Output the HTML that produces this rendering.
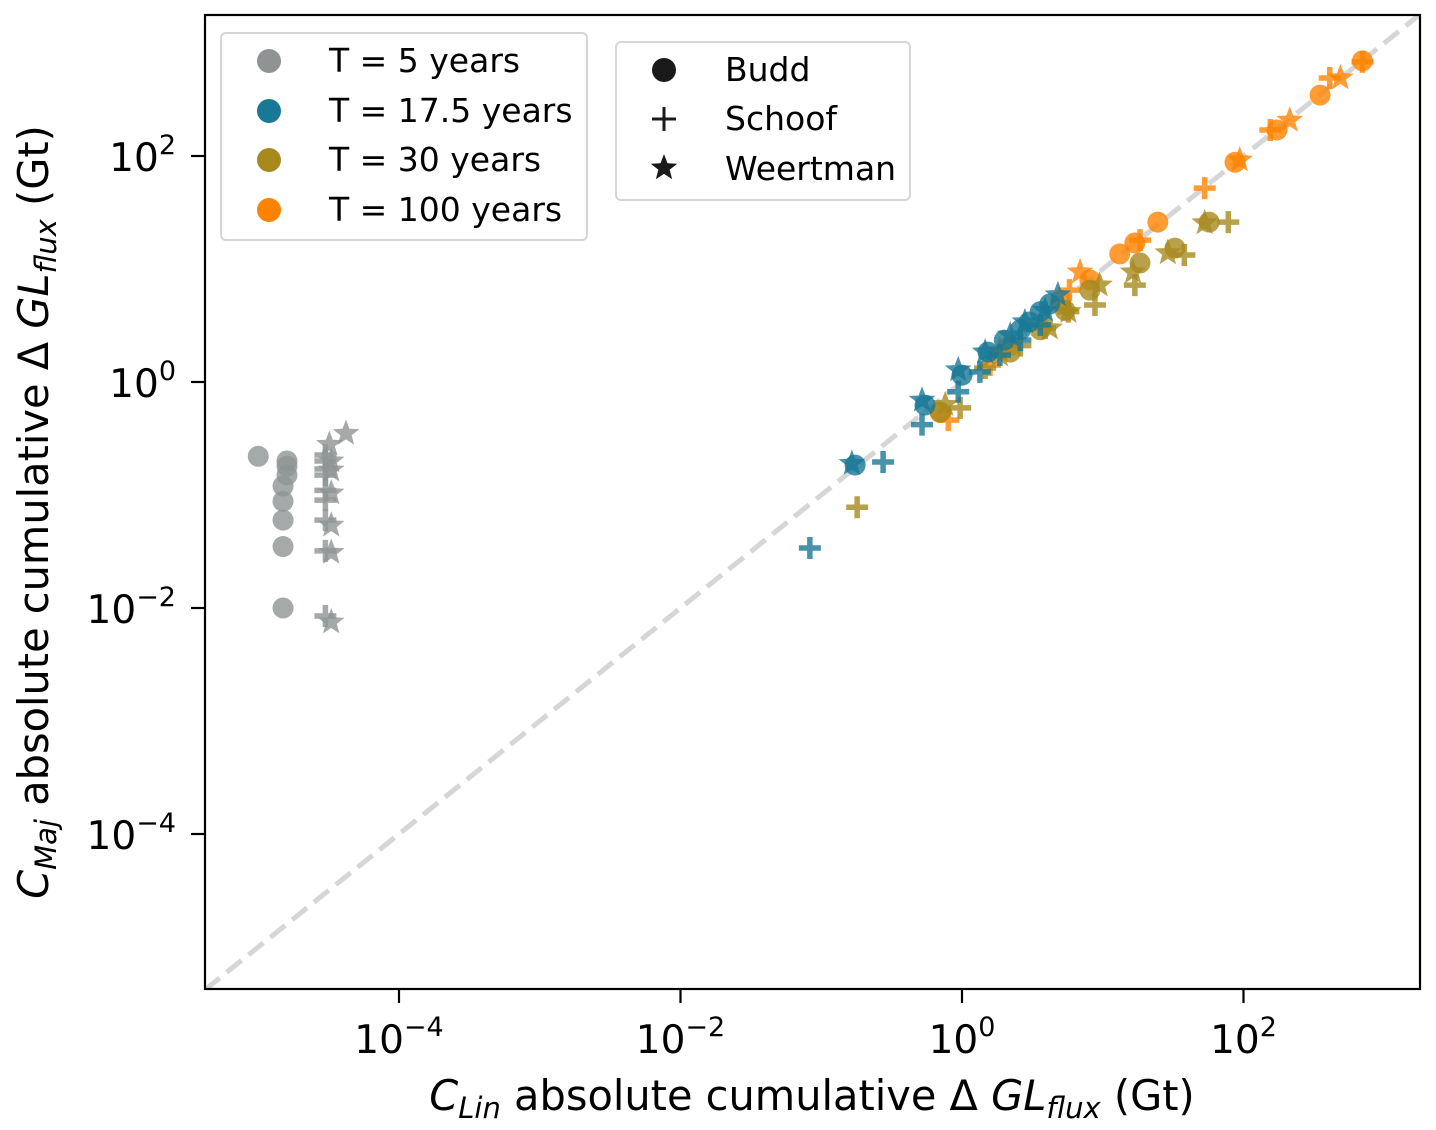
<!DOCTYPE html>
<html><head><meta charset="utf-8"><style>
html,body{margin:0;padding:0;background:#fff;}
svg{display:block;font-family:"DejaVu Sans","Liberation Sans",sans-serif;}
</style></head><body>
<svg id="chart" width="1436" height="1130" viewBox="0 0 1436 1130" xmlns="http://www.w3.org/2000/svg">
<defs><clipPath id="clip"><rect x="205" y="15" width="1215" height="974"/></clipPath></defs>
<rect x="0" y="0" width="1436" height="1130" fill="#fff"/>
<g id="marks" clip-path="url(#clip)"></g>
<rect x="205" y="15" width="1215" height="974" fill="none" stroke="#000" stroke-width="2.2"/>
<g id="ticks"></g>
<text x="812" y="1110" font-size="41.5" text-anchor="middle"><tspan font-style="italic">C</tspan><tspan font-style="italic" font-size="29" dy="8">Lin</tspan><tspan dy="-8"> absolute cumulative Δ </tspan><tspan font-style="italic">GL</tspan><tspan font-style="italic" font-size="29" dy="8">flux</tspan><tspan dy="-8"> (Gt)</tspan></text>
<text transform="translate(48,512) rotate(-90)" font-size="41.5" text-anchor="middle"><tspan font-style="italic">C</tspan><tspan font-style="italic" font-size="29" dy="8">Maj</tspan><tspan dy="-8"> absolute cumulative Δ </tspan><tspan font-style="italic">GL</tspan><tspan font-style="italic" font-size="29" dy="8">flux</tspan><tspan dy="-8"> (Gt)</tspan></text>
<g>
<rect x="221" y="33" width="366" height="207" rx="5" fill="#fff" fill-opacity="0.8" stroke="#d6d6d6" stroke-width="2"/>
<circle cx="269" cy="61" r="12" fill="#8f9393"/><text x="329" y="72" font-size="33">T = 5 years</text>
<circle cx="269" cy="111" r="12" fill="#187896"/><text x="329" y="122" font-size="33">T = 17.5 years</text>
<circle cx="269" cy="160" r="12" fill="#a8891e"/><text x="329" y="171" font-size="33">T = 30 years</text>
<circle cx="269" cy="210" r="12" fill="#ff8300"/><text x="329" y="221" font-size="33">T = 100 years</text>
</g>
<g>
<rect x="616" y="42" width="294" height="158" rx="5" fill="#fff" fill-opacity="0.8" stroke="#d6d6d6" stroke-width="2"/>
<circle cx="664" cy="70" r="12" fill="#1a1a1a"/><text x="725" y="81" font-size="33">Budd</text>
<path d="M652 119h24M664 107v24" stroke="#1a1a1a" stroke-width="3"/><text x="725" y="130" font-size="33">Schoof</text>
<path id="legstar" fill="#1a1a1a"/><text x="725" y="180" font-size="33">Weertman</text>
</g>
</svg>
<script>
// data (values in Gt)
const budd5x=[1e-5,1.6e-5,1.6e-5,1.6e-5,1.5e-5,1.5e-5,1.5e-5,1.5e-5,1.5e-5];
const budd5y=[0.22,0.2,0.18,0.15,0.12,0.088,0.06,0.035,0.01];
const schoof5x=[3e-5,3e-5,3e-5,3e-5,3e-5,3e-5,3e-5,3e-5,3e-5];
const schoof5y=[0.226,0.2,0.17,0.15,0.11,0.09,0.06,0.032,0.0085];
const weert5x=[4.2e-5,3.2e-5,3.3e-5,3.3e-5,3.3e-5,3.3e-5,3.3e-5,3.3e-5];
const weert5y=[0.35,0.28,0.2,0.166,0.104,0.054,0.031,0.0075];
const budd17x=[0.174,0.546,1.0,1.53,2.0,2.6,3.0,3.6,4.2];
const budd17y=[0.184,0.625,1.15,1.84,2.35,2.9,3.4,4.2,4.9];
const schoof17x=[0.083,0.275,0.52,0.94,1.34,1.86,2.6,3.6];
const schoof17y=[0.034,0.196,0.42,0.82,1.23,1.73,2.35,3.2];
const weert17x=[0.165,0.52,0.94,1.46,2.2,2.8,3.9,4.8];
const weert17y=[0.19,0.69,1.28,1.84,2.6,3.4,4.3,5.9];
const budd30x=[0.7,2.2,3.6,5.4,8.1,18.4,32.6,57];
const budd30y=[0.54,1.84,2.9,4.3,6.5,11.3,15.3,26];
const schoof30x=[0.18,0.97,1.46,2.6,3.9,5.7,8.8,16.9,38,78];
const schoof30y=[0.078,0.59,1.33,2.1,3.0,4.2,4.8,7.2,13.3,26];
const weert30x=[0.76,1.86,4.2,5.7,9.5,16.4,29,53];
const weert30y=[0.63,1.73,3.0,4.2,7.2,9.4,13.9,25.6];
const budd100x=[0.7,2.2,5.0,8.1,13.2,16.9,24.6,87,173,350,700];
const budd100y=[0.54,2.1,5.3,8.0,13.6,17,26,88,170,346,695];
const schoof100x=[0.8,1.58,5.8,18.4,53,155,410,700];
const schoof100y=[0.46,1.41,6.5,18,52,170,490,680];
const weert100x=[1.86,6.9,94,213,488];
const weert100y=[1.9,9.4,92,207,490];
const xTicks=[-4,-2,0,2];
const yTicks=[-4,-2,0,2];

const NS='http://www.w3.org/2000/svg';
function X(v){return 962+140.75*Math.log10(v);}
function Y(v){return 382-113*Math.log10(v);}
function starPath(cx,cy,R){let r=R*0.42,d='';for(let i=0;i<10;i++){const a=-Math.PI/2+i*Math.PI/5,rr=i%2?r:R;d+=(i?'L':'M')+(cx+rr*Math.cos(a)).toFixed(1)+' '+(cy+rr*Math.sin(a)).toFixed(1);}return d+'Z';}
document.getElementById('legstar').setAttribute('d',starPath(664,168,14));
const marks=document.getElementById('marks');
const diag=document.createElementNS(NS,'line');


diag.setAttribute('x1',X(1e-6));diag.setAttribute('y1',Y(1e-6));diag.setAttribute('x2',X(1e4));diag.setAttribute('y2',Y(1e4));
diag.setAttribute('stroke','#d6d6d6');diag.setAttribute('stroke-width','5');diag.setAttribute('stroke-dasharray','19 9');
marks.appendChild(diag);
function draw(xs,ys,kind,color,name){
  for(let i=0;i<xs.length;i++){
    const cx=X(xs[i]),cy=Y(ys[i]);let el;
    if(kind==='o'){el=document.createElementNS(NS,'circle');el.setAttribute('cx',cx);el.setAttribute('cy',cy);el.setAttribute('r',10.5);el.setAttribute('fill',color);}
    else if(kind==='+'){el=document.createElementNS(NS,'path');el.setAttribute('d','M'+(cx-11)+' '+cy+'H'+(cx+11)+'M'+cx+' '+(cy-11)+'V'+(cy+11));el.setAttribute('stroke',color);el.setAttribute('stroke-width','5.5');el.setAttribute('fill','none');}
    else {el=document.createElementNS(NS,'path');el.setAttribute('d',starPath(cx,cy,14));el.setAttribute('fill',color);}
    el.setAttribute('opacity','0.8');
    
    
    marks.appendChild(el);
  }
}
const G='#8f9393',B='#187896',O='#a8891e',R='#ff8300';
draw(budd5x,budd5y,'o',G,'budd-t5-point');draw(schoof5x,schoof5y,'+',G,'schoof-t5-point');draw(weert5x,weert5y,'*',G,'weertman-t5-point');
draw(budd100x,budd100y,'o',R,'budd-t100-point');draw(schoof100x,schoof100y,'+',R,'schoof-t100-point');draw(weert100x,weert100y,'*',R,'weertman-t100-point');
draw(budd30x,budd30y,'o',O,'budd-t30-point');draw(schoof30x,schoof30y,'+',O,'schoof-t30-point');draw(weert30x,weert30y,'*',O,'weertman-t30-point');
draw(budd17x,budd17y,'o',B,'budd-t17-point');draw(schoof17x,schoof17y,'+',B,'schoof-t17-point');draw(weert17x,weert17y,'*',B,'weertman-t17-point');
const tg=document.getElementById('ticks');
function lbl(x,y,e,anchor,name){
  const t=document.createElementNS(NS,'text');t.setAttribute('x',x);t.setAttribute('y',y);t.setAttribute('font-size','39');t.setAttribute('text-anchor',anchor);
  
  
  t.innerHTML='10<tspan font-size="27" dy="-17">'+(e<0?'−':'')+Math.abs(e)+'</tspan>';tg.appendChild(t);
}
xTicks.forEach(e=>{const x=X(Math.pow(10,e));const l=document.createElementNS(NS,'line');l.setAttribute('x1',x);l.setAttribute('x2',x);l.setAttribute('y1',989);l.setAttribute('y2',1003);l.setAttribute('stroke','#000');l.setAttribute('stroke-width','2.2');


tg.appendChild(l);lbl(x,1053,e,'middle','x-tick-label');});
yTicks.forEach(e=>{const y=Y(Math.pow(10,e));const l=document.createElementNS(NS,'line');l.setAttribute('x1',191);l.setAttribute('x2',205);l.setAttribute('y1',y);l.setAttribute('y2',y);l.setAttribute('stroke','#000');l.setAttribute('stroke-width','2.2');


tg.appendChild(l);lbl(176,y+15,e,'end','y-tick-label');});
</script>
</body></html>
